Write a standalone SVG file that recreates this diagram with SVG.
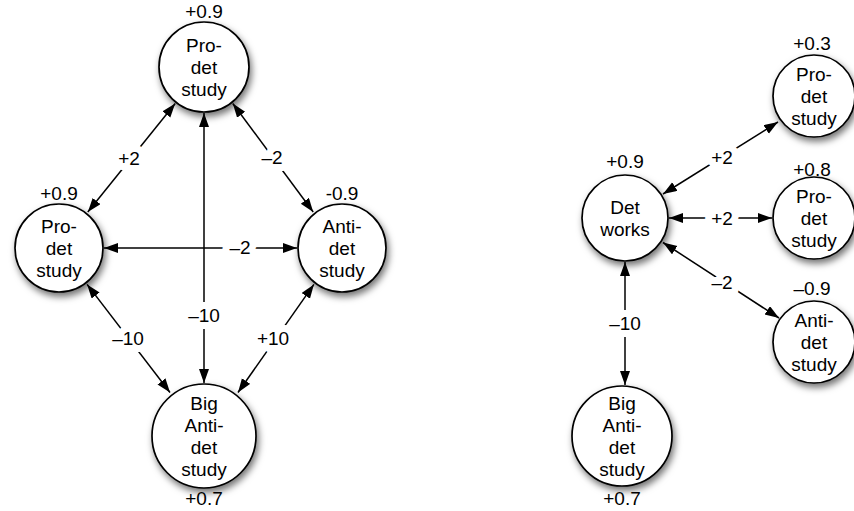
<svg xmlns="http://www.w3.org/2000/svg" width="854" height="511" viewBox="0 0 854 511">
<defs>
<filter id="sh" x="-30%" y="-30%" width="170%" height="170%">
<feDropShadow dx="2" dy="4" stdDeviation="3.5" flood-color="#000" flood-opacity="0.55"/>
</filter>
<marker id="ah" markerUnits="userSpaceOnUse" markerWidth="15" markerHeight="11" refX="14" refY="5" orient="auto-start-reverse">
<path d="M0,0 L14,5 L0,10 z" fill="#000"/>
</marker>
</defs>
<style>
.n circle{fill:#fff;stroke:#000;stroke-width:1.7;filter:url(#sh)}
text{font-family:"Liberation Sans",Arial,Helvetica,sans-serif;font-size:19px;fill:#000;text-anchor:middle}
.e line{stroke:#000;stroke-width:1.5;marker-start:url(#ah);marker-end:url(#ah)}
.lbl{stroke:#fff;stroke-width:14;stroke-linejoin:round;paint-order:stroke}
</style>
<g id="connectors" class="e">
<line x1="175.2" y1="103.5" x2="87.8" y2="212"/>
<line x1="232.8" y1="103.5" x2="313.2" y2="212"/>
<line x1="204" y1="113" x2="204" y2="383"/>
<line x1="104" y1="248" x2="297" y2="248"/>
<line x1="87.1" y1="284.4" x2="170" y2="392.5"/>
<line x1="313.9" y1="284.4" x2="238" y2="392.5"/>
<line x1="663" y1="194" x2="778" y2="122"/>
<line x1="669" y1="218" x2="772" y2="218"/>
<line x1="663" y1="242.5" x2="779" y2="318"/>
<line x1="625" y1="262" x2="625" y2="385"/>
<text class="lbl" x="129" y="165">+2</text>
<text class="lbl" x="272" y="164">–2</text>
<text class="lbl" x="204" y="322">–10</text>
<text class="lbl" x="240" y="254">–2</text>
<text class="lbl" x="128" y="345">–10</text>
<text class="lbl" x="273" y="345">+10</text>
<text class="lbl" x="722" y="164">+2</text>
<text class="lbl" x="722" y="225">+2</text>
<text class="lbl" x="722" y="289">–2</text>
<text class="lbl" x="625" y="330">–10</text>
</g>
<g id="top-prodet" class="n">
<circle cx="204" cy="67" r="45"/>
<text x="204" y="18">+0.9</text>
<text x="204" y="52">Pro-</text>
<text x="204" y="74">det</text>
<text x="204" y="96">study</text>
</g>
<g id="left-prodet" class="n">
<circle cx="59" cy="248" r="44"/>
<text x="59" y="200">+0.9</text>
<text x="59" y="233">Pro-</text>
<text x="59" y="255">det</text>
<text x="59" y="277">study</text>
</g>
<g id="right-antidet" class="n">
<circle cx="342" cy="248" r="44"/>
<text x="342" y="200">-0.9</text>
<text x="342" y="233">Anti-</text>
<text x="342" y="255">det</text>
<text x="342" y="277">study</text>
</g>
<g id="big-antidet-left" class="n">
<circle cx="204" cy="436" r="52"/>
<text x="204" y="410">Big</text>
<text x="204" y="432">Anti-</text>
<text x="204" y="454">det</text>
<text x="204" y="476">study</text>
<text x="204" y="505">+0.7</text>
</g>
<g id="det-works" class="n">
<circle cx="625" cy="218" r="43"/>
<text x="625" y="168">+0.9</text>
<text x="625" y="214">Det</text>
<text x="625" y="236">works</text>
</g>
<g id="prodet-r1" class="n">
<circle cx="814" cy="96" r="41"/>
<text x="812" y="50">+0.3</text>
<text x="814" y="81">Pro-</text>
<text x="814" y="103">det</text>
<text x="814" y="125">study</text>
</g>
<g id="prodet-r2" class="n">
<circle cx="814" cy="218" r="41"/>
<text x="812" y="176">+0.8</text>
<text x="814" y="203">Pro-</text>
<text x="814" y="225">det</text>
<text x="814" y="247">study</text>
</g>
<g id="antidet-r3" class="n">
<circle cx="814" cy="342" r="41"/>
<text x="812" y="295">–0.9</text>
<text x="814" y="327">Anti-</text>
<text x="814" y="349">det</text>
<text x="814" y="371">study</text>
</g>
<g id="big-antidet-right" class="n">
<circle cx="622" cy="436" r="50"/>
<text x="622" y="410">Big</text>
<text x="622" y="432">Anti-</text>
<text x="622" y="454">det</text>
<text x="622" y="476">study</text>
<text x="622" y="505">+0.7</text>
</g>
</svg>
